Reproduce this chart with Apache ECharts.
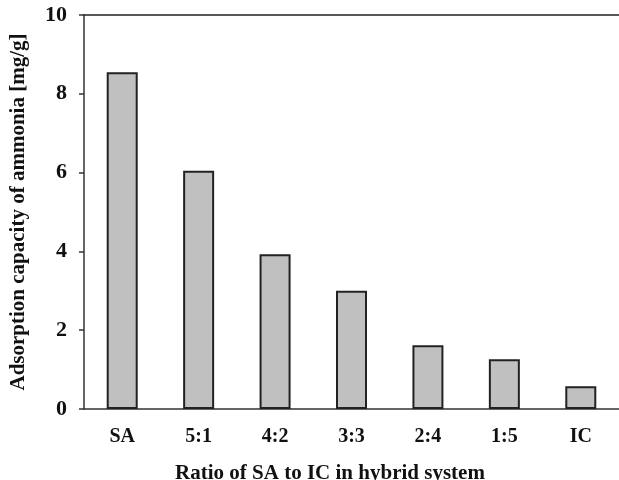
<!DOCTYPE html>
<html>
<head>
<meta charset="utf-8">
<script src="https://cdn.jsdelivr.net/npm/echarts@6/dist/echarts.min.js"></script>
<style>html,body{margin:0;padding:0;background:#fff}#c{width:619px;height:480px}</style>
</head>
<body>
<div id="c"></div>
<script>
const categories = ['SA', '5:1', '4:2', '3:3', '2:4', '1:5', 'IC'];
const capacity = [8.55, 6.05, 3.93, 3.0, 1.62, 1.26, 0.58];
const yTicks = [0, 2, 4, 6, 8, 10];
const yTitle = 'Adsorption capacity of ammonia [mg/g]';
const xTitle = 'Ratio of SA to IC in hybrid system';

const serif = '"Liberation Serif", "Times New Roman", serif';
const chart = echarts.init(document.getElementById('c'), null, {renderer: 'canvas'});
chart.setOption({
  animation: false,
  backgroundColor: '#fff',
  grid: {left: 82, right: 0, top: 15, bottom: 71, containLabel: false},
  xAxis: [{
    type: 'category',
    data: categories,
    axisLine: {show: true, lineStyle: {color: '#333', width: 1.5}},
    axisTick: {show: false},
    axisLabel: {color: '#111', fontFamily: serif, fontWeight: 'bold', fontSize: 20, margin: 18}
  }, {
    type: 'category',
    position: 'top',
    data: categories,
    axisLine: {show: true, lineStyle: {color: '#222', width: 1.5}},
    axisTick: {show: false},
    axisLabel: {show: false}
  }],
  yAxis: {
    type: 'value',
    min: yTicks[0],
    max: yTicks[yTicks.length - 1],
    interval: 2,
    name: yTitle,
    nameLocation: 'middle',
    nameGap: 55,
    nameTextStyle: {color: '#111', fontFamily: serif, fontWeight: 'bold', fontSize: 21},
    axisLine: {show: true, lineStyle: {color: '#333', width: 1.5}},
    axisTick: {show: true, inside: false, length: 5, lineStyle: {color: '#333', width: 1.5}},
    axisLabel: {color: '#111', fontFamily: serif, fontWeight: 'bold', fontSize: 22, margin: 17},
    splitLine: {show: false}
  },
  graphic: [{
    type: 'text',
    x: 330,
    y: 474,
    style: {
      text: xTitle,
      fill: '#111',
      font: 'bold 21px ' + serif,
      textAlign: 'center',
      textVerticalAlign: 'middle'
    }
  }],
  series: [{
    type: 'bar',
    data: capacity,
    barWidth: 31,
    itemStyle: {color: '#c0c0c0', borderColor: '#222', borderWidth: 2}
  }]
});
</script>
</body>
</html>
